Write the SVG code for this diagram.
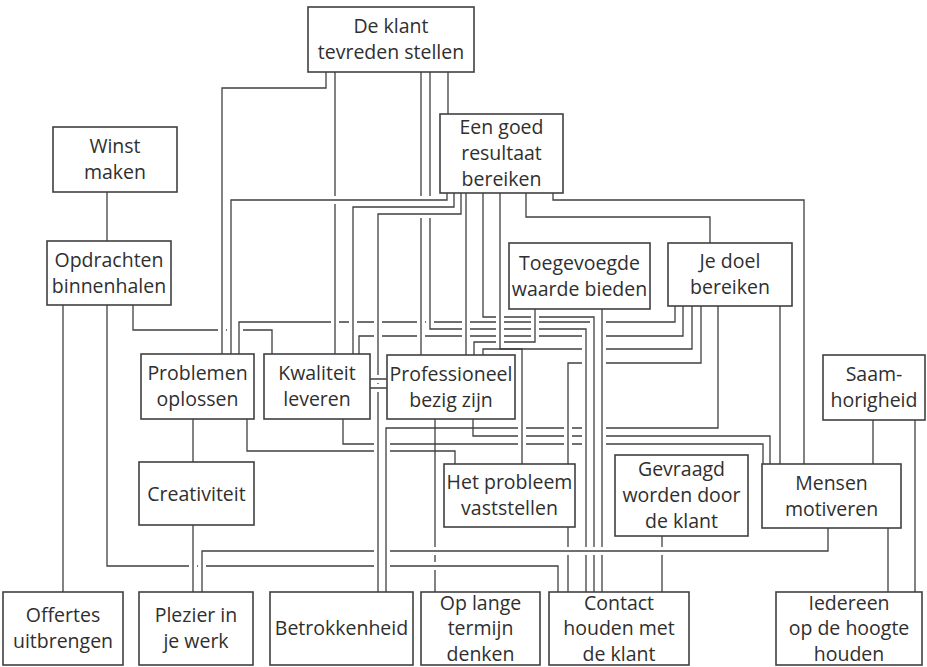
<svg xmlns="http://www.w3.org/2000/svg" width="927" height="667" viewBox="0 0 927 667">
<style>
.c{fill:none;stroke:#404040;stroke-width:1.3}
.h{fill:none;stroke:#fff;stroke-width:8}
.n rect{fill:#fff;stroke:#404040;stroke-width:1.6}
.n text{font-family:"Open Sans","Liberation Sans",sans-serif;font-size:19.5px;fill:#2f2f2f;text-anchor:middle}
</style>
<rect width="927" height="667" fill="#fff"/>
<g id="connectors">
<path class="c" d="M326,72V88H222V354"/>
<path class="c" d="M335,72V354"/>
<path class="c" d="M421,72V355"/>
<path class="c" d="M430,72V329H586V592"/>
<path class="c" d="M448,72V114"/>
<path class="c" d="M447,193V200H231V354"/>
<path class="c" d="M454,193V207H353V354"/>
<path class="c" d="M461,193V214H378V592"/>
<path class="c" d="M466,193V355"/>
<path class="c" d="M483,193V317H594V592"/>
<path class="c" d="M500,193V349H522V464"/>
<path class="c" d="M526,193V217H710V243"/>
<path class="c" d="M553,193V200H804V464"/>
<path class="c" d="M107,192V241"/>
<path class="c" d="M63,305V592"/>
<path class="c" d="M107,305V566H558V592"/>
<path class="c" d="M133,305V330H272V354"/>
<path class="c" d="M239,354V322H675V306"/>
<path class="c" d="M359,354V336H683V306"/>
<path class="c" d="M370,379H387"/>
<path class="c" d="M370,388H387"/>
<path class="c" d="M193,419V462"/>
<path class="c" d="M193,525V592"/>
<path class="c" d="M247,419V451H455V464"/>
<path class="c" d="M343,419V444H763V464"/>
<path class="c" d="M473,419V436H770V464"/>
<path class="c" d="M718,306V428H386V592"/>
<path class="c" d="M780,306V464"/>
<path class="c" d="M873,420V464"/>
<path class="c" d="M915,420V592"/>
<path class="c" d="M888,528V592"/>
<path class="c" d="M828,528V551H202V592"/>
<path class="c" d="M662,536V592"/>
<path class="c" d="M568,527V592"/>
<path class="c" d="M602,309V592"/>
<path class="c" d="M692,306V349H483V355"/>
<path class="c" d="M701,306V363H568V464"/>
<path class="c" d="M535,309V342H474V355"/>
<path class="c" d="M435,419V592"/>
<g id="crossings">
<path class="h" d="M222,93V349M231,205V349M239,327V349M335,77V349M353,212V349M378,219V587M386,433V587M421,77V350M430,77V325M586,334V540M466,198V350M594,321V540M500,198V345M535,313V338M522,354V460M568,368V460M602,313V540"/>
<path class="c" d="M222,93V349M231,205V349M239,327V349M335,77V349M353,212V349M378,219V587M386,433V587M421,77V350M430,77V325M586,334V540M466,198V350M594,321V540M500,198V345M535,313V338M522,354V460M568,368V460M602,313V540"/>
<path class="h" d="M236,200H442M358,207H449M383,214H456M371,379H386M371,388H386M395,566H553M395,551H823"/>
<path class="c" d="M236,200H442M358,207H449M383,214H456M371,379H386M371,388H386M395,566H553M395,551H823"/>
<path class="h" d="M193,530V587M202,556V587"/>
<path class="c" d="M193,530V587M202,556V587"/>
</g>
</g>
<g id="n-klant" class="n"><rect x="308" y="7" width="166" height="65"/><text x="391" y="33">De klant</text><text x="391" y="59">tevreden stellen</text></g>
<g id="n-resultaat" class="n"><rect x="440" y="114" width="123" height="79"/><text x="501.5" y="134">Een goed</text><text x="501.5" y="160">resultaat</text><text x="501.5" y="186">bereiken</text></g>
<g id="n-winst" class="n"><rect x="53" y="127" width="124" height="65"/><text x="115" y="153">Winst</text><text x="115" y="179">maken</text></g>
<g id="n-opdrachten" class="n"><rect x="47" y="241" width="124" height="64"/><text x="109" y="266.5">Opdrachten</text><text x="109" y="292.5">binnenhalen</text></g>
<g id="n-toegevoegd" class="n"><rect x="509" y="243" width="141" height="66"/><text x="579.5" y="269.5">Toegevoegde</text><text x="579.5" y="295.5">waarde bieden</text></g>
<g id="n-doel" class="n"><rect x="668" y="243" width="124" height="63"/><text x="730" y="268">Je doel</text><text x="730" y="294">bereiken</text></g>
<g id="n-problemen" class="n"><rect x="141" y="354" width="113" height="65"/><text x="197.5" y="380">Problemen</text><text x="197.5" y="406">oplossen</text></g>
<g id="n-kwaliteit" class="n"><rect x="264" y="354" width="106" height="65"/><text x="317" y="380">Kwaliteit</text><text x="317" y="406">leveren</text></g>
<g id="n-professioneel" class="n"><rect x="387" y="355" width="128" height="64"/><text x="451" y="380.5">Professioneel</text><text x="451" y="406.5">bezig zijn</text></g>
<g id="n-saam" class="n"><rect x="823" y="355" width="102" height="65"/><text x="874" y="381">Saam-</text><text x="874" y="407">horigheid</text></g>
<g id="n-creativiteit" class="n"><rect x="139" y="462" width="115" height="63"/><text x="196.5" y="500.5">Creativiteit</text></g>
<g id="n-probleem" class="n"><rect x="444" y="464" width="131" height="63"/><text x="509.5" y="489">Het probleem</text><text x="509.5" y="515">vaststellen</text></g>
<g id="n-gevraagd" class="n"><rect x="615" y="455" width="133" height="81"/><text x="681.5" y="476">Gevraagd</text><text x="681.5" y="502">worden door</text><text x="681.5" y="528">de klant</text></g>
<g id="n-mensen" class="n"><rect x="762" y="464" width="139" height="64"/><text x="831.5" y="489.5">Mensen</text><text x="831.5" y="515.5">motiveren</text></g>
<g id="n-offertes" class="n"><rect x="3" y="592" width="120" height="73"/><text x="63" y="622">Offertes</text><text x="63" y="648">uitbrengen</text></g>
<g id="n-plezier" class="n"><rect x="139" y="592" width="114" height="73"/><text x="196" y="622">Plezier in</text><text x="196" y="648">je werk</text></g>
<g id="n-betrokkenheid" class="n"><rect x="270" y="592" width="143" height="73"/><text x="341.5" y="635">Betrokkenheid</text></g>
<g id="n-lange" class="n"><rect x="421" y="592" width="119" height="73"/><text x="480.5" y="609.5">Op lange</text><text x="480.5" y="635">termijn</text><text x="480.5" y="660.5">denken</text></g>
<g id="n-contact" class="n"><rect x="549" y="592" width="140" height="73"/><text x="619" y="609.5">Contact</text><text x="619" y="635">houden met</text><text x="619" y="660.5">de klant</text></g>
<g id="n-iedereen" class="n"><rect x="776" y="592" width="146" height="73"/><text x="849" y="609.5">Iedereen</text><text x="849" y="635">op de hoogte</text><text x="849" y="660.5">houden</text></g>
</svg>
